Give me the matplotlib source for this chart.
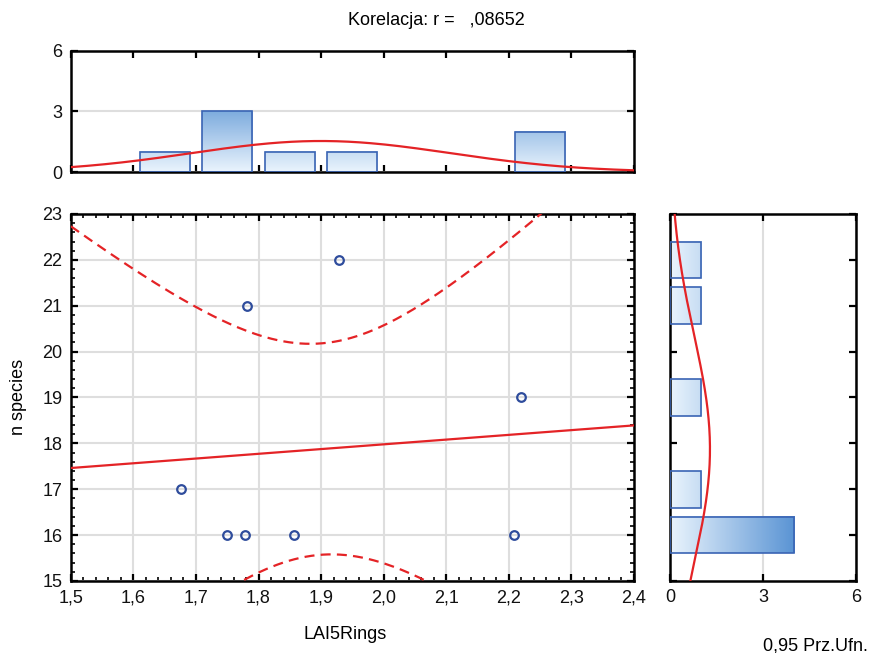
import numpy as np
import matplotlib
matplotlib.use("Agg")
import matplotlib.pyplot as plt
from matplotlib.colors import LinearSegmentedColormap
from matplotlib.ticker import MultipleLocator, FuncFormatter

plt.rcParams['font.family'] = ['Liberation Sans', 'DejaVu Sans']

# data
lai = [1.676, 1.749, 1.778, 1.857, 2.209, 1.781, 1.928, 2.219]
nspec = [17, 16, 16, 16, 16, 21, 22, 19]
lai_edges = np.linspace(1.5, 2.4, 10)
nspec_edges = np.linspace(14.5, 23.5, 10)
t_975_6 = 2.4469  # t quantile, df = n - 2

title = "Korelacja: r =   ,08652"
xlabel = "LAI5Rings"
ylabel = "n species"
conf_label = "0,95 Prz.Ufn."

red = '#E42326'
blue = '#2E4C9C'
edge = '#3A64B4'
grid_c = '#DEDEDE'
cmap = LinearSegmentedColormap.from_list('bar', ['#EAF4FD', '#5A94D4'])
fs = 13

x = np.array(lai)
y = np.array(nspec)
n = len(x)

fig = plt.figure(figsize=(8.7, 6.53), dpi=100)
ax = fig.add_axes([0.0814, 0.1103, 0.6473, 0.562])
axt = fig.add_axes([0.0814, 0.7366, 0.6473, 0.1853])
axr = fig.add_axes([0.7701, 0.1103, 0.2138, 0.562])

comma = FuncFormatter(lambda v, p: f"{v:.1f}".replace('.', ','))

# --- main scatter with regression and 95% band
slope, icept = np.polyfit(x, y, 1)
xs = np.linspace(1.5, 2.4, 200)
yhat = icept + slope * xs
resid = y - (icept + slope * x)
s = np.sqrt(np.sum(resid ** 2) / (n - 2))
sxx = np.sum((x - x.mean()) ** 2)
half = t_975_6 * s * np.sqrt(1 / n + (xs - x.mean()) ** 2 / sxx)

ax.plot(xs, yhat, color=red, lw=1.6, zorder=3)
ax.plot(xs, yhat + half, color=red, lw=1.6, dashes=(4.5, 2.8), zorder=3)
ax.plot(xs, yhat - half, color=red, lw=1.6, dashes=(4.5, 2.8), zorder=3)
ax.plot(x, y, 'o', ms=6.2, mfc='none', mec=blue, mew=1.6, zorder=4, clip_on=False)

ax.set_xlim(1.5, 2.4)
ax.set_ylim(15, 23)
ax.xaxis.set_major_locator(MultipleLocator(0.1))
ax.xaxis.set_minor_locator(MultipleLocator(0.02))
ax.yaxis.set_major_locator(MultipleLocator(1))
ax.yaxis.set_minor_locator(MultipleLocator(0.2))
ax.xaxis.set_major_formatter(comma)
ax.grid(True, which='major', color=grid_c, lw=1.5, zorder=0)
ax.set_axisbelow(True)

# --- top histogram (LAI5Rings)
cnt, ed = np.histogram(x, bins=lai_edges)
w = ed[1] - ed[0]
for c, e0 in zip(cnt, ed[:-1]):
    if c == 0:
        continue
    x0, x1 = e0 + 0.1 * w, e0 + 0.9 * w
    grad = np.linspace(0, c, 100).reshape(-1, 1)
    axt.imshow(grad, extent=[x0, x1, 0, c], origin='lower', cmap=cmap,
               vmin=0, vmax=4, aspect='auto', zorder=2)
    axt.add_patch(plt.Rectangle((x0, 0), x1 - x0, c, fill=False,
                                ec=edge, lw=1.2, zorder=3))
xg = np.linspace(1.5, 2.4, 200)
sdx = x.std(ddof=1)
axt.plot(xg, n * w * np.exp(-0.5 * ((xg - x.mean()) / sdx) ** 2) / (sdx * np.sqrt(2 * np.pi)),
         color=red, lw=1.6, zorder=4)
axt.set_xlim(1.5, 2.4)
axt.set_ylim(0, 6)
axt.set_yticks([0, 3, 6])
axt.xaxis.set_major_locator(MultipleLocator(0.1))
axt.set_xticklabels([])
axt.grid(True, axis='y', color=grid_c, lw=1.5, zorder=0)
axt.set_axisbelow(True)

# --- right histogram (n species)
cnt, ed = np.histogram(y, bins=nspec_edges)
h = ed[1] - ed[0]
for c, e0 in zip(cnt, ed[:-1]):
    if c == 0:
        continue
    y0, y1 = e0 + 0.1 * h, e0 + 0.9 * h
    grad = np.linspace(0, c, 100).reshape(1, -1)
    axr.imshow(grad, extent=[0, c, y0, y1], origin='lower', cmap=cmap,
               vmin=0, vmax=4, aspect='auto', zorder=2)
    axr.add_patch(plt.Rectangle((0, y0), c, y1 - y0, fill=False,
                                ec=edge, lw=1.2, zorder=3))
yg = np.linspace(15, 23, 200)
sdy = y.std(ddof=1)
axr.plot(n * h * np.exp(-0.5 * ((yg - y.mean()) / sdy) ** 2) / (sdy * np.sqrt(2 * np.pi)), yg,
         color=red, lw=1.6, zorder=4)
axr.set_xlim(0, 6)
axr.set_ylim(15, 23)
axr.set_xticks([0, 3, 6])
axr.yaxis.set_major_locator(MultipleLocator(1))
axr.set_yticklabels([])
axr.grid(True, axis='x', color=grid_c, lw=1.5, zorder=0)
axr.set_axisbelow(True)

for a in (ax, axt, axr):
    for sp in a.spines.values():
        sp.set_linewidth(1.8)
        sp.set_color('black')
    a.tick_params(which='both', direction='in', top=True, right=True,
                  labelsize=fs, colors='black', labelcolor='#111111', pad=6)
    a.tick_params(which='major', length=5, width=1.6)
    a.tick_params(which='minor', length=3, width=1.2)

fig.text(0.502, 0.969, title, ha='center', va='center', fontsize=fs)
fig.text(0.397, 0.029, xlabel, ha='center', va='center', fontsize=fs)
fig.text(0.021, 0.392, ylabel, ha='center', va='center', rotation=90, fontsize=fs)
fig.text(0.997, 0.004, conf_label, ha='right', va='baseline', fontsize=fs)

fig.savefig("out.png", dpi=100)
